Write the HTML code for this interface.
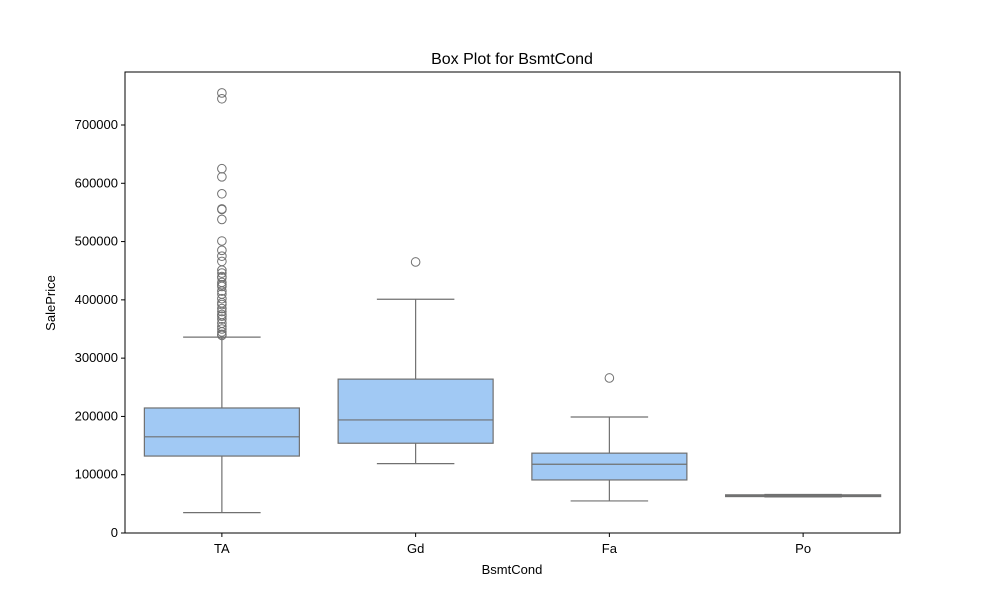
<!DOCTYPE html>
<html><head><meta charset="utf-8"><style>
body{margin:0;background:#fff;font-family:"Liberation Sans","DejaVu Sans",sans-serif}
</style></head><body>
<svg id="chart" width="1000" height="600" xmlns="http://www.w3.org/2000/svg"></svg>
<script>
const categories=["TA","Gd","Fa","Po"];
const whiskerLow=[35000,119000,55000,62000];
const q1=[132000,154000,91000,62500];
const medians=[165000,194000,118000,64000];
const q3=[214500,264000,137000,65500];
const whiskerHigh=[336000,401000,199000,66000];
const outliersTA=[755000,745000,625000,611000,582000,556000,555000,538000,501000,485000,475000,466000,451000,446000,440000,438000,430000,426000,423000,415000,410000,402000,395000,392000,385000,380000,375000,372000,367000,360000,354000,350000,345000,341000,339000];
const outliersGd=[465000];
const outliersFa=[266000];
const outliersPo=[];
const outliers=[outliersTA,outliersGd,outliersFa,outliersPo];
const yTicks=[0,100000,200000,300000,400000,500000,600000,700000];

const svg=document.getElementById('chart');
const NS="http://www.w3.org/2000/svg";
const L=125,R=900,T=72,B=533;
const y=v=>533-v*(408/700000);
const bandW=(R-L)/categories.length;
const x=i=>L+bandW*(i+0.5);
function el(tag,attrs,parent){const e=document.createElementNS(NS,tag);for(const k in attrs)e.setAttribute(k,attrs[k]);(parent||svg).appendChild(e);return e;}

const title=el('text',{x:512,y:64,'text-anchor':'middle','font-size':16,fill:'#000'});
title.textContent='Box Plot for BsmtCond';



const yg=el('g',{});


yTicks.forEach(t=>{
  el('line',{x1:L-4,x2:L,y1:y(t),y2:y(t),stroke:'#000','stroke-width':1},yg);
  const tx=el('text',{x:L-7,y:y(t)+4,'text-anchor':'end','font-size':13,fill:'#000'},yg);
  tx.textContent=t;
  
  
});
const yt=el('text',{x:55,y:303,'text-anchor':'middle','font-size':13,fill:'#000',transform:'rotate(-90 55 303)'});
yt.textContent='SalePrice';



const xg=el('g',{});


categories.forEach((c,i)=>{
  el('line',{x1:x(i),x2:x(i),y1:B,y2:B+4,stroke:'#000'},xg);
  const tx=el('text',{x:x(i),y:B+20,'text-anchor':'middle','font-size':13,fill:'#000'},xg);
  tx.textContent=c;
  
  
});
const xt=el('text',{x:512,y:574,'text-anchor':'middle','font-size':13,fill:'#000'});
xt.textContent='BsmtCond';



const bw=bandW*0.8;
categories.forEach((c,i)=>{
  const g=el('g',{});
  
  
  const cx=x(i),col='#707070';
  el('line',{x1:cx,x2:cx,y1:y(whiskerLow[i]),y2:y(q1[i]),stroke:col,'stroke-width':1.2},g);
  el('line',{x1:cx,x2:cx,y1:y(q3[i]),y2:y(whiskerHigh[i]),stroke:col,'stroke-width':1.2},g);
  el('line',{x1:cx-bw/4,x2:cx+bw/4,y1:y(whiskerLow[i]),y2:y(whiskerLow[i]),stroke:col,'stroke-width':1.2},g);
  el('line',{x1:cx-bw/4,x2:cx+bw/4,y1:y(whiskerHigh[i]),y2:y(whiskerHigh[i]),stroke:col,'stroke-width':1.2},g);
  el('rect',{x:cx-bw/2,y:y(q3[i]),width:bw,height:Math.max(y(q1[i])-y(q3[i]),1),fill:'#a1c9f4',stroke:col,'stroke-width':1.2},g);
  el('line',{x1:cx-bw/2,x2:cx+bw/2,y1:y(medians[i]),y2:y(medians[i]),stroke:col,'stroke-width':1.2},g);
  outliers[i].forEach(v=>{
    const o=el('circle',{cx:cx,cy:y(v),r:4.3,fill:'none',stroke:col,'stroke-width':1},g);
    
    
  });
});

const frame=el('rect',{x:L,y:T,width:R-L,height:B-T,fill:'none',stroke:'#000','stroke-width':1});


</script>
</body></html>
